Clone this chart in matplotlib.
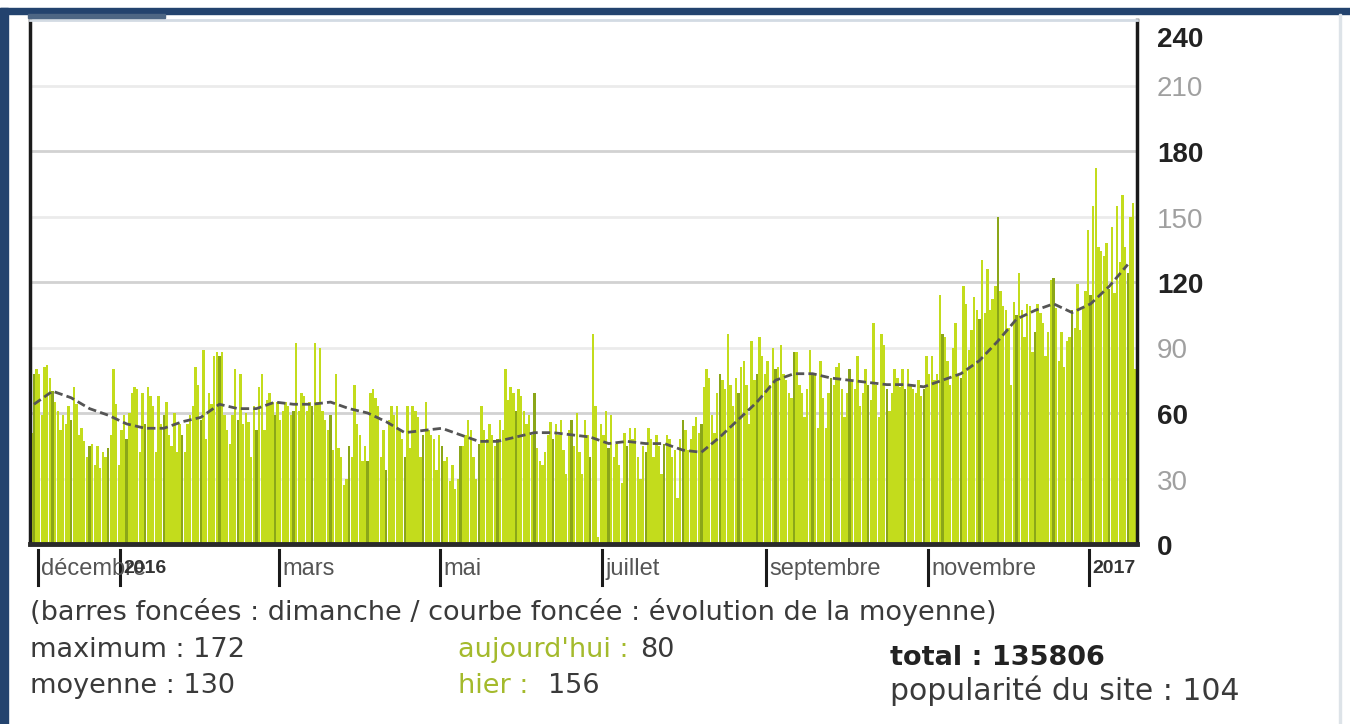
import numpy as np
import pandas as pd
import matplotlib
matplotlib.use("Agg")
import matplotlib.pyplot as plt
from matplotlib.patches import Rectangle
from matplotlib.transforms import blended_transform_factory

# daily visits, one row per week (Mon..Sun), first row is Sat/Sun, last row Mon..Wed
START = "2015-11-28"
visits = [
    51, 78,
    80, 78, 59, 81, 82, 76, 70,
    65, 61, 52, 59, 55, 63, 57,
    72, 64, 50, 53, 47, 40, 45,
    46, 36, 45, 35, 42, 40, 44,
    50, 80, 64, 36, 52, 59, 48,
    60, 69, 72, 71, 42, 69, 55,
    72, 68, 63, 42, 68, 55, 59,
    65, 50, 45, 60, 42, 55, 50,
    42, 55, 59, 63, 81, 73, 57,
    89, 48, 69, 64, 86, 88, 86,
    88, 59, 52, 46, 59, 80, 57,
    78, 55, 60, 56, 40, 63, 52,
    72, 78, 52, 66, 69, 65, 59,
    65, 57, 61, 65, 63, 59, 61,
    92, 61, 69, 68, 61, 65, 63,
    92, 65, 90, 61, 57, 52, 59,
    43, 78, 44, 40, 27, 30, 45,
    40, 73, 55, 50, 38, 45, 38,
    69, 71, 67, 63, 40, 52, 34,
    57, 63, 59, 63, 52, 48, 40,
    63, 44, 63, 61, 58, 40, 50,
    65, 52, 50, 48, 34, 50, 45,
    38, 40, 29, 36, 25, 30, 45,
    45, 50, 57, 52, 40, 30, 46,
    63, 52, 48, 55, 50, 45, 48,
    57, 52, 80, 66, 72, 69, 61,
    71, 68, 61, 55, 59, 50, 69,
    44, 38, 36, 42, 50, 56, 48,
    55, 50, 57, 43, 32, 52, 57,
    45, 60, 42, 32, 57, 50, 40,
    96, 63, 3, 55, 50, 61, 44,
    59, 40, 46, 36, 28, 51, 45,
    53, 48, 53, 40, 30, 45, 42,
    53, 48, 40, 50, 45, 32, 46,
    50, 48, 40, 43, 21, 48, 57,
    52, 43, 48, 54, 58, 51, 55,
    72, 80, 76, 59, 51, 69, 78,
    75, 71, 96, 73, 63, 76, 69,
    81, 84, 73, 55, 93, 75, 78,
    95, 86, 78, 84, 73, 90, 80,
    81, 91, 78, 75, 69, 67, 88,
    88, 73, 69, 58, 71, 89, 78,
    78, 53, 84, 67, 53, 69, 76,
    73, 81, 83, 71, 58, 69, 80,
    75, 71, 86, 63, 69, 80, 73,
    66, 101, 73, 58, 96, 91, 71,
    61, 69, 80, 76, 72, 80, 71,
    80, 73, 71, 69, 75, 68, 71,
    86, 78, 86, 75, 78, 114, 96,
    95, 84, 73, 90, 101, 78, 76,
    118, 110, 89, 98, 113, 107, 103,
    130, 106, 126, 107, 112, 118, 150,
    116, 109, 107, 99, 73, 111, 105,
    124, 107, 95, 110, 109, 88, 97,
    110, 106, 101, 86, 97, 121, 122,
    108, 84, 97, 81, 93, 95, 107,
    99, 119, 98, 108, 116, 144, 114,
    155, 172, 136, 134, 132, 138, 117,
    145, 115, 155, 129, 160, 136, 124,
    150, 156, 80,
]

# moving average read each Sunday from 2015-11-29
AVG_START = "2015-11-29"
avg_values = [
    64, 70, 67, 62, 59, 55, 53, 53, 56, 58,
    64, 62, 62, 65, 64, 64, 65, 62, 60, 56,
    51, 52, 53, 50, 47, 47, 49, 51, 51, 50,
    49, 46, 47, 46, 46, 43, 42, 49, 57, 65,
    75, 78, 78, 76, 75, 74, 73, 73, 72, 75,
    78, 84, 93, 103, 107, 110, 106, 110, 118, 128,
]

month_dates = ["2015-12-01", "2016-01-01", "2016-03-01", "2016-05-01",
               "2016-07-01", "2016-09-01", "2016-11-01", "2017-01-01"]
month_labels = ["décembre", "2016", "mars", "mai", "juillet",
                "septembre", "novembre", "2017"]
y_ticks = [0, 30, 60, 90, 120, 150, 180, 210, 240]

footer = "(barres foncées : dimanche / courbe foncée : évolution de la moyenne)"

W, H = 1350, 724
GREEN = "#c3dc1c"
SUNDAY = "#8ba619"
LABEL_GREEN = "#a4ba2c"
TEXT = "#3a3a3a"


def px_rect(x0, y0, x1, y1):
    return [x0 / W, 1 - y1 / H, (x1 - x0) / W, (y1 - y0) / H]


days = pd.date_range(START, periods=len(visits), freq="D")
vals = np.array(visits)
x = np.arange(len(visits))
sunday = days.dayofweek == 6
avg_days = pd.date_range(AVG_START, periods=len(avg_values), freq="7D")
avg_x = (avg_days - days[0]).days

fig = plt.figure(figsize=(W / 100, H / 100), dpi=100)
fig.patch.set_facecolor("white")

# page frame
fig.patches.append(Rectangle((0, 1 - 14 / H), 1, 6 / H, transform=fig.transFigure,
                             color="#23436e", zorder=5))
fig.patches.append(Rectangle((0, 0), 8 / W, 1 - 8 / H, transform=fig.transFigure,
                             color="#23436e", zorder=5))
fig.patches.append(Rectangle((28 / W, 1 - 18 / H), 137 / W, 4 / H, transform=fig.transFigure,
                             color="#4d6684", zorder=5))
fig.patches.append(Rectangle((1339 / W, 0), 2 / W, 1 - 14 / H, transform=fig.transFigure,
                             color="#dde3e8", zorder=5))

ax = fig.add_axes(px_rect(30, 20, 1137, 544))
ax.set_xlim(-0.5, len(visits) - 0.5)
ax.set_ylim(0, 240)
ax.set_xticks([])
ax.set_yticks([])
ax.spines["left"].set_linewidth(2.5)
ax.spines["left"].set_color("#1a1a1a")
ax.spines["right"].set_linewidth(2.5)
ax.spines["right"].set_color("#1a1a1a")
ax.spines["bottom"].set_linewidth(3.5)
ax.spines["bottom"].set_color("#2a2a2a")
ax.spines["top"].set_linewidth(2)
ax.spines["top"].set_color("#d3dbe3")

for v in y_ticks[1:-1]:
    ax.axhline(v, color="#d2d2d2" if v % 60 == 0 else "#ebebeb", lw=2, zorder=0)

ax.bar(x[~sunday], vals[~sunday], width=0.9, color=GREEN, zorder=2)
ax.bar(x[sunday], vals[sunday], width=0.9, color=SUNDAY, zorder=2)
ax.plot(avg_x, avg_values, color="#555555", lw=2, ls=(0, (3, 1.5)), zorder=3)

# right-hand value labels
trans_y = blended_transform_factory(ax.transAxes, ax.transData)
for v in y_ticks:
    bold = v % 60 == 0
    off = -20 if v == 240 else -4
    ax.annotate(str(v), xy=(1.018, v), xycoords=trans_y,
                xytext=(0, off), textcoords="offset pixels",
                va="center", ha="left", fontsize=20,
                family="Liberation Sans",
                fontweight="bold" if bold else "normal",
                color="#222222" if bold else "#a0a0a0")

# month markers under the axis
trans_x = ax.get_xaxis_transform()
for d, lab in zip(month_dates, month_labels):
    xi = (pd.Timestamp(d) - days[0]).days - 0.5
    ax.plot([xi, xi], [-0.012, -0.078], transform=trans_x, clip_on=False,
            color="#1a1a1a", lw=2.2)
    is_year = lab.isdigit()
    ax.text(xi + 1.3, -0.047, lab, transform=trans_x, va="center", ha="left",
            fontsize=17 if not is_year else 14, family="Liberation Sans",
            fontweight="bold" if is_year else "normal",
            color="#333333" if is_year else "#555555")

# footer texts
fs = 19.5
fig.text(30 / W, 1 - 620 / H, footer, fontsize=fs, color=TEXT, va="baseline")
fig.text(30 / W, 1 - 657 / H, "maximum : 172", fontsize=fs, color=TEXT, va="baseline")
fig.text(30 / W, 1 - 693 / H, "moyenne : 130", fontsize=fs, color=TEXT, va="baseline")
fig.text(458 / W, 1 - 657 / H, "aujourd'hui :", fontsize=fs, color=LABEL_GREEN, va="baseline")
fig.text(640 / W, 1 - 657 / H, "80", fontsize=fs, color=TEXT, va="baseline")
fig.text(458 / W, 1 - 693 / H, "hier :", fontsize=fs, color=LABEL_GREEN, va="baseline")
fig.text(548 / W, 1 - 693 / H, "156", fontsize=fs, color=TEXT, va="baseline")
fig.text(890 / W, 1 - 665 / H, "total : 135806", fontsize=fs, color="#222222",
         fontweight="bold", va="baseline")
fig.text(890 / W, 1 - 700 / H, "popularité du site : 104", fontsize=21.5, color=TEXT,
         va="baseline")

fig.savefig("out.png", dpi=100)
